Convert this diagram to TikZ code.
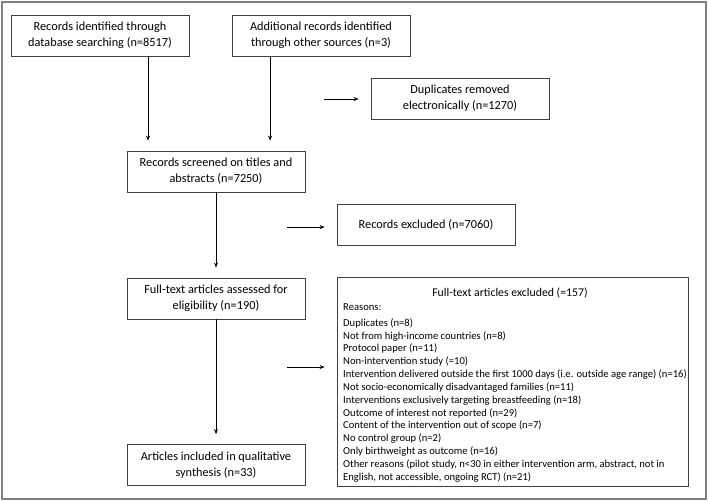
\documentclass[tikz,border=0pt]{standalone}
\usepackage{fontspec}
\setmainfont{Carlito}
\usetikzlibrary{arrows.meta,positioning,calc}
\tikzset{
	box/.style={draw=black!75, line width=0.8pt, minimum width=178pt, minimum height=41pt, inner sep=0pt, align=center, font=\fontsize{12.3}{16}\selectfont},
	arr/.style={line width=0.7pt, -{Stealth[length=5pt,width=4pt]}, shorten >=10pt},
	side/.style={shorten >=12pt},
	reason/.style={anchor=base west, inner sep=0pt, font=\fontsize{10.6}{12}\selectfont},
}

\begin{document}
\begin{tikzpicture}[x=1pt, y=-1pt]
			%%%%% START %%%%%
			\useasboundingbox (0,0) rectangle (709,501);
			\draw[line width=1.6pt, color=black!50] (2,2) rectangle (706,499);
			
			% identification
			\node[box] (db) at (100,35.5) {Records identified through\\database searching (n=8517)};
			\node[box] (other) at (321,35.5) {Additional records identified\\through other sources (n=3)};
			\node[box] (dup) at (460,98.5) {Duplicates removed\\electronically (n=1270)};
			
			% screening
			\node[box] (screen) at (216,171.5) {Records screened on titles and\\abstracts (n=7250)};
			\node[box] (recex) at (426,224.5) {Records excluded (n=7060)};
			
			% eligibility
			\node[box] (full) at (216,298.5) {Full-text articles assessed for\\eligibility (n=190)};
			\node[draw=black!75, line width=0.8pt, minimum width=351pt, minimum height=209pt, inner sep=0pt] (excl) at (512.5,381.5) {};
			\node[anchor=base, inner sep=0pt, font=\fontsize{11.8}{13}\selectfont] (ttl) at (510,296) {Full-text articles excluded (=157)};
			\node[reason] (rs) at (343,310.5) {Reasons:};
			\foreach \txt [count=\i] in {Duplicates (n=8), Not from high-income countries (n=8), Protocol paper (n=11), Non-intervention study (=10), Intervention delivered outside the first 1000 days (i.e. outside age range) (n=16), Not socio-economically disadvantaged families (n=11), Interventions exclusively targeting breastfeeding (n=18), Outcome of interest not reported (n=29), Content of the intervention out of scope (n=7), No control group (n=2), Only birthweight as outcome (n=16), {Other reasons (pilot study, n<30 in either intervention arm, abstract, not in}, {English, not accessible, ongoing RCT) (n=21)}}
				\node[reason] (r\i) at (343,313.5+12.83*\i) {\txt};
			
			% included
			\node[box] (incl) at (216,465) {Articles included in qualitative\\synthesis (n=33)};
			
			% connectors
			\coordinate (xdb) at (148,0);
			\coordinate (xother) at (270,0);
			\coordinate (d0) at (324,99);
			\coordinate (e0) at (287,227);
			\coordinate (f0) at (287,367);
			
			\draw[arr] (db.south -| xdb) -- (screen.north -| xdb);
			\draw[arr] (other.south -| xother) -- (screen.north -| xother);
			\draw[arr] (screen) -- (full);
			\draw[arr] (full) -- (incl);
			
			\draw[arr, side] (d0) -- (dup.west |- d0);
			\draw[arr, side] (e0) -- (recex.west |- e0);
			\draw[arr, side] (f0) -- (excl.west |- f0);
			%%%%% END %%%%%
\end{tikzpicture}
\end{document}
